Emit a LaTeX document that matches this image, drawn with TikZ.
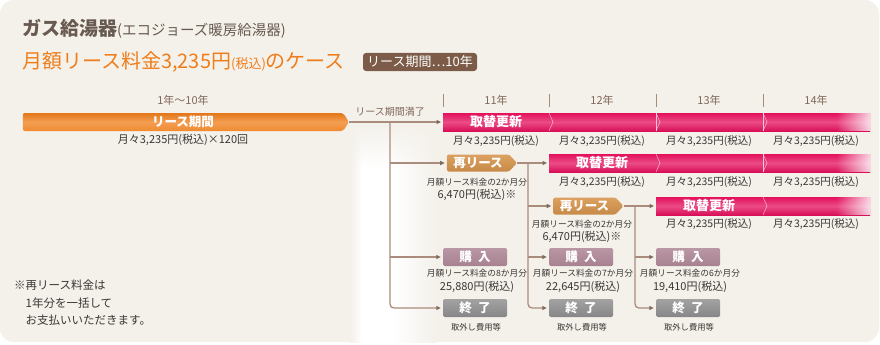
\documentclass[tikz,border=0pt]{standalone}
\usepackage{fontspec}
\setmainfont{Noto Sans CJK JP}
\usepackage{tikz}
\usetikzlibrary{arrows.meta, positioning, shapes.symbols, fadings}
\usepackage{xcolor}
\definecolor{panel}{RGB}{244,241,235}
\definecolor{ink}{RGB}{58,54,52}
\definecolor{brownink}{RGB}{130,104,90}
\definecolor{titlegray}{RGB}{104,90,80}
\definecolor{leaseorange}{RGB}{239,125,26}
\definecolor{renewpink}{RGB}{228,16,92}
\definecolor{reltan}{RGB}{216,150,78}
\definecolor{buymauve}{RGB}{177,137,152}
\definecolor{endgray}{RGB}{146,146,146}
\definecolor{connbrown}{RGB}{170,140,124}
\definecolor{badgebrown}{RGB}{124,92,72}
\tikzfading[name=topfade, top color=transparent!0, bottom color=transparent!100]
\tikzfading[name=rightfade, left color=transparent!100, right color=transparent!18]
\newcommand{\ptsize}[1]{\fontsize{#1}{#1}\selectfont}

\begin{document}
\begin{tikzpicture}[x=1pt, y=-1pt, every node/.style={inner sep=0pt, text=ink},
  note/.style={font=\ptsize{10.5}},
  notesmall/.style={font=\ptsize{8.7}},
  hdr/.style={font=\ptsize{11}, text=brownink},
  bartext/.style={text=white, font=\ptsize{13}\bfseries},
  leasebar/.style={signal, signal to=east, signal pointer angle=115, minimum width=326, minimum height=18, rounded corners=2,
    top color=leaseorange!95!black, bottom color=leaseorange!90!white, middle color=leaseorange!75!white, text=white, font=\ptsize{12.5}\bfseries},
  pinkbar/.style={rectangle, minimum height=18, top color=renewpink, bottom color=renewpink!95!black, middle color=renewpink!75!white},
  release/.style={signal, signal to=east, signal pointer angle=95, minimum width=70, minimum height=17, rounded corners=1.5,
    top color=reltan!90!white, bottom color=reltan!92!black, text=white, font=\ptsize{12.5}\bfseries},
  buybox/.style={rectangle, rounded corners=1.5, minimum width=64, minimum height=18,
    top color=buymauve!88!white, bottom color=buymauve!94!black, text=white, font=\ptsize{12.5}\bfseries},
  endbox/.style={buybox, top color=endgray!85!white, bottom color=endgray!92!black},
  conn/.style={connbrown, line width=1.3, shorten >=2pt, -{Triangle[length=4.5pt, width=4pt, color=connbrown!75!black]}},
  chev/.style={white, opacity=0.55, line width=0.6}]
\useasboundingbox (0,0) rectangle (880,345);
\fill[white] (0,0) rectangle (880,345);
\fill[panel, rounded corners=14] (0,0) rectangle (879,342);
\shade[left color=panel, right color=white] (350,124) rectangle (362,342);
\fill[white] (362,124) rectangle (392,342);
\shade[left color=white, right color=panel] (392,124) rectangle (436,342);
\fill[panel, path fading=topfade] (349,123) rectangle (437,168);

\node[anchor=west, font=\ptsize{19}\bfseries, text=titlegray] (title) at (22,29) {ガス給湯器{\mdseries\ptsize{14.5}(エコジョーズ暖房給湯器)}};
\node[anchor=west, font=\ptsize{20}, text=leaseorange] (casehead) at (22,62) {月額リース料金3,235円{\ptsize{13}(税込)}のケース};
\node[fill=badgebrown, rounded corners=3, minimum width=114, minimum height=18, text=white, font=\ptsize{13}] (term) at (420,62) {リース期間…10年};

\node[hdr] (span) at (183,100) {1年～10年};
\foreach \x/\lab in {496/11,602/12,709/13,816/14} { \node[hdr] (yr\lab) at (\x,100) {\lab 年}; }
\foreach \x in {443,549,656,763} { \draw[connbrown, line width=0.8] (\x,94) -- (\x,107); }

\node[leasebar] (lease) at (183,122) {リース期間};
\node[note, font=\ptsize{11}] (leasefee) at (183,140) {月々3,235円(税込)×120回};
\node[hdr, font=\ptsize{10}] (expire) at (390,112) {リース期間満了};

\foreach \n/\x/\y in {A/443/122,B/549/163,C/656/206} {
  \node[pinkbar, minimum width={870-\x}, anchor=west] (bar\n) at (\x,\y) {};
  \fill[white, path fading=rightfade] ([xshift=-34pt]bar\n.north east) rectangle (bar\n.south east);
}
\foreach \x/\y in {549/122,656/122,763/122,656/163,763/163,763/206} { \draw[chev] (\x,\y-9) -- (\x+4,\y) -- (\x,\y+9); }
\foreach \x/\y in {656/122,763/122,763/163} { \draw[white, opacity=0.7, line width=0.8] (\x,\y-9) -- (\x,\y+9); }
\node[bartext] (swapA) at (496,122) {取替更新};
\node[bartext] (swapB) at (602,163) {取替更新};
\node[bartext] (swapC) at (709,206) {取替更新};
\foreach \x in {496,602,709,816} { \node[note] (feeA\x) at (\x,141) {月々3,235円(税込)}; }
\foreach \x in {602,709,816} { \node[note] (feeB\x) at (\x,182) {月々3,235円(税込)}; }
\foreach \x in {709,816} { \node[note] (feeC\x) at (\x,224) {月々3,235円(税込)}; }

\node[release] (reA) at (478,163) {再リース};
\node[release] (reB) at (584.5,206) {再リース};
\node[notesmall] (reAnote) at (477,182) {月額リース料金の2か月分};
\node[note, font=\ptsize{11}] (reAfee) at (477,194.5) {6,470円(税込)※};
\node[notesmall] (reBnote) at (582,224) {月額リース料金の2か月分};
\node[note, font=\ptsize{11}] (reBfee) at (582,236.5) {6,470円(税込)※};

\foreach \n/\x/\m/\amt in {A/475/8/25{,}880,B/581/7/22{,}645,C/688/6/19{,}410} {
  \node[buybox] (buy\n) at (\x,257) {購\hspace{0.5em}入};
  \node[notesmall] (buy\n note) at (\x+2,273.5) {月額リース料金の\m か月分};
  \node[note, font=\ptsize{11}] (buy\n fee) at (\x+2,287) {\amt 円(税込)};
  \node[endbox] (end\n) at (\x,308) {終\hspace{0.5em}了};
  \node[notesmall, font=\ptsize{8.3}] (end\n note) at (\x+1,327) {取外し費用等};
}

\coordinate (jA) at (390,122);
\coordinate (jB) at (528,163);
\coordinate (jC) at (635,206);
\draw[conn] (lease.east) -- (barA.west);
\draw[conn] (jA |- reA) -- (reA.west);
\draw[conn] (jA |- buyA) -- (buyA.west);
\draw[conn, rounded corners=4] (jA) -- (jA |- endA) -- (endA.west);
\draw[conn] (reA.east) -- (barB.west);
\draw[conn] (jB |- reB) -- (reB.west);
\draw[conn] (jB |- buyB) -- (buyB.west);
\draw[conn, rounded corners=4] (jB) -- (jB |- endB) -- (endB.west);
\draw[conn] (reB.east) -- (barC.west);
\draw[conn] (jC |- buyC) -- (buyC.west);
\draw[conn, rounded corners=4] (jC) -- (jC |- endC) -- (endC.west);

\node[anchor=north west, align=left, font={\fontsize{11.5}{17.5}\selectfont}] (memo) at (14,280) {※再リース料金は\\\hspace{1em}1年分を一括して\\\hspace{1em}お支払いいただきます。};
\end{tikzpicture}
\end{document}
